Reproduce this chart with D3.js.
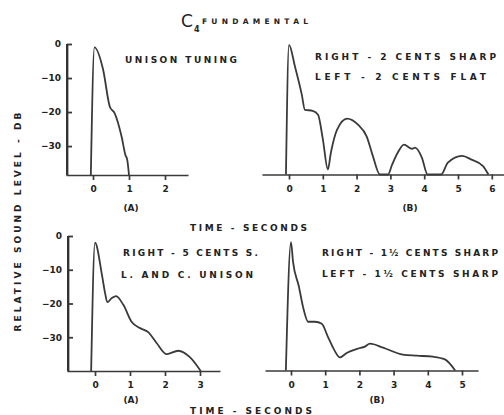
<!DOCTYPE html>
<html>
<head>
<meta charset="utf-8">
<script src="https://cdn.jsdelivr.net/npm/d3@7"></script>
<style>
  body { margin: 0; background: #fff; }
  text { font-family: "DejaVu Sans", sans-serif; font-weight: bold; fill: #222; }
</style>
</head>
<body>
<div id="container"></div>
<script>
// values: [seconds, dB]
const curveA = [[-0.06, -38.5], [0.04, -1], [0.28, -7.5], [0.47, -18.5], [0.6, -20.3],
    [0.8, -27.5], [0.9, -32.6], [0.95, -34], [1.0, -38.5]];
const curveB = [[-0.09, -38.5], [0, -0.3], [0.18, -6.8], [0.38, -15], [0.47, -19.4], [0.7, -19.7],
    [0.86, -20.9], [1.0, -28], [1.15, -37], [1.24, -32], [1.42, -25.3], [1.72, -22], [2.04, -23.8],
    [2.3, -27.3], [2.48, -33], [2.69, -38.5], [2.93, -38.5], [3.05, -35.6], [3.22, -32], [3.4, -29.7],
    [3.64, -30.9], [3.73, -30.6], [3.93, -33.5], [4.1, -38.5], [4.5, -38.5], [4.7, -35], [5.12, -33],
    [5.4, -34.1], [5.74, -36], [5.9, -38.5]];
const curveC = [[-0.11, -40], [0, -2], [0.2, -11.6], [0.29, -17], [0.35, -19.6], [0.48, -18.4],
    [0.6, -17.8], [0.81, -20.4], [1.05, -25.5], [1.29, -27.3], [1.52, -28.5], [1.76, -31.7],
    [2.05, -35], [2.38, -34], [2.71, -35.9], [3.02, -40]];
const curveD = [[-0.15, -40], [0, -1.8], [0.06, -7.7], [0.23, -15], [0.35, -21], [0.5, -25.5],
    [0.7, -25.5], [0.9, -26.1], [1.08, -30], [1.26, -33.8], [1.43, -36.1], [1.64, -34.7],
    [1.96, -33.5], [2.16, -32.9], [2.31, -32], [2.69, -33.2], [3.27, -35.3], [3.68, -35.6],
    [4.15, -35.9], [4.5, -36.7], [4.8, -40]];

const ticksA = [0, 1, 2];
const ticksB = [0, 1, 2, 3, 4, 5, 6];
const ticksC = [0, 1, 2, 3];
const ticksD = [0, 1, 2, 3, 4, 5];
const dbTicks = [0, -10, -20, -30];

const ink = '#3a3a3a';

const svg = d3.select('#container').append('svg')
    .attr('width', 504)
    .attr('height', 415)
    .style('display', 'block');

function label(x, y, str, len, size) {
    const t = svg.append('text')
        .attr('x', x)
        .attr('y', y)
        .attr('dy', '0.35em')
        .style('font-size', size + 'px')
        .text(str);
    if (len) t.attr('textLength', len).attr('lengthAdjust', 'spacing');
    return t;
}

// one panel: x0 = pixel of t=0, pps = pixels per second
function panel(data, ticks, x0, pps, tMin, tMax, yTop, yBase, dbMin, withY) {
    const x = d3.scaleLinear()
        .domain([tMin, tMax])
        .range([x0 + tMin * pps, x0 + tMax * pps]);
    const y = d3.scaleLinear()
        .domain([dbMin, 0])
        .range([yBase, yTop]);

    const xa = svg.append('g')
        .attr('transform', `translate(0 ${yBase})`)
        .call(d3.axisBottom(x).tickValues(ticks).tickFormat(d3.format('d'))
            .tickSizeInner(5).tickSizeOuter(0).tickPadding(6));
    xa.selectAll('path, line').style('stroke', ink).style('stroke-width', 1.7);
    xa.selectAll('text').style('font-size', '9px').style('fill', '#222')
        .style('font-family', '"DejaVu Sans", sans-serif').style('font-weight', 'bold');

    if (withY) {
        const ax = Math.round(x(tMin)) + 1;
        const ya = svg.append('g')
            .attr('transform', `translate(${ax} 0)`)
            .call(d3.axisRight(y).tickValues(dbTicks).tickFormat(d3.format('d'))
                .tickSizeInner(5).tickSizeOuter(0));
        ya.selectAll('path, line').style('stroke', ink).style('stroke-width', 1.8);
        ya.selectAll('text').attr('x', -6).attr('text-anchor', 'end')
            .style('font-size', '9px').style('fill', '#222')
            .style('font-family', '"DejaVu Sans", sans-serif').style('font-weight', 'bold');
        svg.append('rect')
            .attr('x', ax - 1)
            .attr('y', y(0))
            .attr('width', 2)
            .attr('height', y(dbMin) - y(0))
            .style('fill', '#333');
    }

    svg.append('path')
        .datum(data)
        .style('fill', 'none')
        .style('stroke', ink)
        .style('stroke-width', 1.8)
        .style('stroke-linejoin', 'round')
        .attr('d', d3.line()
            .x(d => x(d[0]))
            .y(d => y(d[1]))
            .curve(d3.curveMonotoneX));
}

panel(curveA, ticksA, 93, 36, -0.75, 2.64, 44, 175, -38.5, true);
panel(curveB, ticksB, 289, 33.8, -0.8, 6.4, 44, 174.5, -38.5, false);
panel(curveC, ticksC, 95, 35, -0.8, 3.57, 236, 371, -40, true);
panel(curveD, ticksD, 291, 34.2, -0.76, 5.47, 236, 370.5, -40, false);

// title
svg.append('text').attr('x', 181).attr('y', 27).style('font-size', '17px')
    .style('font-weight', 'normal').text('C');
svg.append('text').attr('x', 194).attr('y', 32).style('font-size', '8px').text('4');
label(202, 21, 'FUNDAMENTAL', 106, 7.5);

// notes
label(125, 60, 'UNISON TUNING', 112, 9);
label(315, 57, 'RIGHT - 2 CENTS SHARP', 181, 9);
label(315, 77, 'LEFT - 2 CENTS FLAT', 171, 9);
label(123, 253, 'RIGHT - 5 CENTS S.', 135, 9);
label(121, 275, 'L. AND C. UNISON', 132, 9);
label(322, 253, 'RIGHT - 1½ CENTS SHARP', 176, 9);
label(322, 274, 'LEFT - 1½ CENTS SHARP', 176, 9);

// sub-labels and axis titles
label(131, 208, '(A)', null, 9).attr('text-anchor', 'middle');
label(410, 208, '(B)', null, 9).attr('text-anchor', 'middle');
label(190, 228, 'TIME - SECONDS', 117, 9);
label(131, 400, '(A)', null, 9).attr('text-anchor', 'middle');
label(377, 400, '(B)', null, 9).attr('text-anchor', 'middle');
label(190, 411, 'TIME - SECONDS', 122, 9);

svg.append('text')
    .attr('transform', 'translate(18 222) rotate(-90)')
    .attr('text-anchor', 'middle')
    .attr('dy', '0.35em')
    .attr('textLength', 219)
    .attr('lengthAdjust', 'spacing')
    .style('font-size', '9px')
    .text('RELATIVE SOUND LEVEL - DB');
</script>
</body>
</html>
